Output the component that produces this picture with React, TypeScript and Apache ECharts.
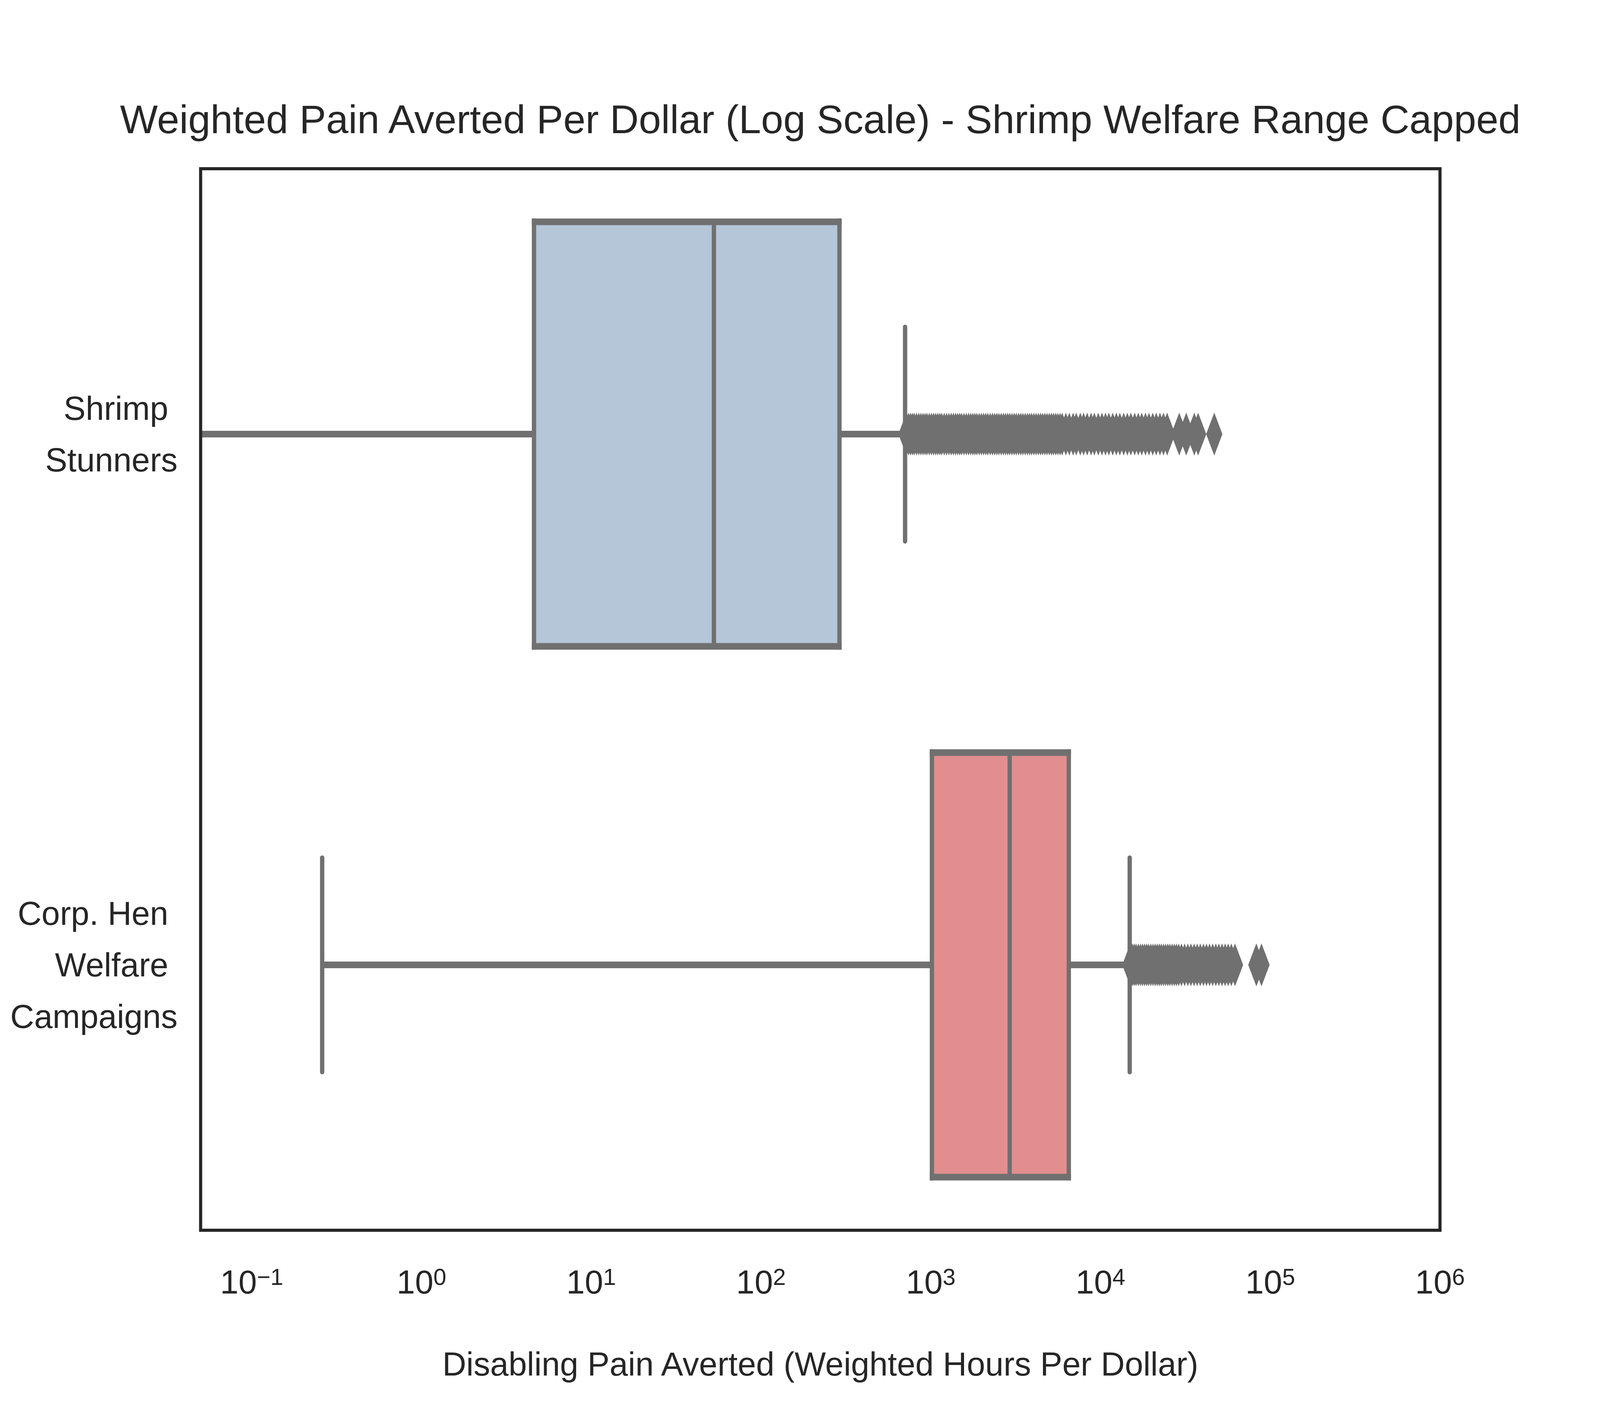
import React, { useEffect, useRef } from 'react';
import * as echarts from 'echarts';

const TITLE = 'Weighted Pain Averted Per Dollar (Log Scale) - Shrimp Welfare Range Capped';
const X_LABEL = 'Disabling Pain Averted (Weighted Hours Per Dollar)';
const categories = ['Shrimp\u00a0\nStunners', 'Corp. Hen\u00a0\nWelfare\u00a0\nCampaigns'];

// [lower whisker, Q1, median, Q3, upper whisker]
const shrimpStats = [0.02, 4.6, 52.8, 290, 706];
const henStats = [0.26, 1016, 2917, 6506, 14860];

const shrimpOutliers = [
  720, 740, 760, 780, 800, 825, 850, 875, 900, 925, 950, 980, 1010, 1040, 1070, 1100, 1130, 1160,
  1200, 1240, 1280, 1320, 1360, 1400, 1440, 1480, 1520, 1570, 1620, 1670, 1720, 1770, 1820, 1870,
  1930, 1990, 2050, 2110, 2170, 2240, 2310, 2380, 2450, 2520, 2600, 2680, 2760, 2840, 2920, 3010,
  3100, 3190, 3290, 3390, 3490, 3600, 3710, 3820, 3930, 4050, 4170, 4300, 4430, 4560, 4700, 4840,
  4990, 5140, 5290, 5450, 5610, 5780, 5950, 6250, 6550, 6900, 7200, 7600, 7950, 8350, 8800, 9200,
  9700, 10200, 10700, 11200, 11800, 12400, 13000, 13700, 14400, 15100, 15900, 16700, 17500, 18400,
  19300, 20300, 21300, 22400, 23500, 24700, 29100, 32000, 35700, 37600, 46800,
];
const henOutliers = [
  15000, 15400, 15800, 16200, 16700, 17200, 17700, 18200, 18700, 19200, 19800, 20400, 21000, 21600,
  22200, 22800, 23500, 24200, 24900, 25600, 26400, 27200, 28000, 28900, 30000, 31300, 32700, 34100,
  35600, 37100, 38700, 40400, 42100, 43900, 45800, 47800, 49800, 52000, 54200, 56500, 59000, 62000,
  82800, 88800,
];

const boxFills = ['#b4c6d8', '#e28e8e'];
const X_MIN = 0.05;
const X_MAX = 1e6;

// reference frame the layout is designed in
const REF_W = 6300;
const REF_H = 3600;

export default function App() {
  const ref = useRef<HTMLDivElement>(null);
  useEffect(() => {
    const chart = echarts.init(ref.current!, null, { renderer: 'svg' });
    const W = chart.getWidth();
    const H = chart.getHeight();
    const sx = W / REF_W;
    const sy = H / REF_H;
    const fs = Math.min(sy, sx * 1.05);
    const font = "'Liberation Sans', Arial, sans-serif";
    const ink = '#262626';
    const grey = '#707070';
    const lwH = 17 * sy; // thickness of horizontal strokes
    const lwV = 17 * sx; // thickness of vertical strokes

    const boxData = [shrimpStats, henStats].map((s, i) => [i, ...s]);
    const scatterData = [
      ...shrimpOutliers.map((v) => [v, 0]),
      ...henOutliers.map((v) => [v, 1]),
    ];

    const gridTop = 432 * sy;
    const gridBottomY = 3150 * sy;

    // x tick label geometry
    const supLH = 88 * fs;
    const baseLH = 125 * fs;
    const supCenter = 3270 * sy;
    const baseCenter = 3322 * sy;
    const labelTop = supCenter - supLH / 2;
    const basePad = baseCenter - labelTop - baseLH / 2;

    chart.setOption({
      animation: false,
      backgroundColor: '#ffffff',
      textStyle: { fontFamily: font },
      graphic: [
        {
          type: 'text',
          x: 3230 * sx,
          y: 305 * sy,
          style: {
            text: TITLE,
            fontSize: 150 * fs,
            fontFamily: font,
            fill: ink,
            align: 'center',
            verticalAlign: 'middle',
            textAlign: 'center',
            textVerticalAlign: 'middle',
          },
        },
      ],
      grid: {
        left: 790 * sx,
        right: 630 * sx,
        top: gridTop,
        bottom: H - gridBottomY,
        show: true,
        borderColor: ink,
        borderWidth: 8,
        backgroundColor: 'transparent',
        z: 10,
      },
      xAxis: {
        type: 'log',
        logBase: 10,
        min: X_MIN,
        max: X_MAX,
        splitNumber: 7,
        name: X_LABEL,
        nameLocation: 'middle',
        nameGap: 3492 * sy - gridBottomY - (124 * fs) / 2,
        nameTextStyle: { fontSize: 124 * fs, color: ink, fontFamily: font },
        axisLine: { show: false },
        axisTick: { show: false },
        splitLine: { show: false },
        axisLabel: {
          margin: labelTop - gridBottomY,
          color: ink,
          fontFamily: font,
          formatter: (v: number) => {
            const e = Math.log10(v);
            const r = Math.round(e);
            if (Math.abs(e - r) > 1e-6) return '';
            const exp = r < 0 ? '\u2212' + Math.abs(r) : String(r);
            return '{b|10}{s|' + exp + '}';
          },
          rich: {
            b: {
              fontSize: 124 * fs,
              lineHeight: baseLH,
              padding: [basePad, 0, 0, 0],
              verticalAlign: 'bottom',
              color: ink,
              fontFamily: font,
            },
            s: {
              fontSize: 87 * fs,
              lineHeight: supLH,
              verticalAlign: 'top',
              color: ink,
              fontFamily: font,
            },
          },
        },
      },
      yAxis: {
        type: 'category',
        inverse: true,
        data: categories,
        axisLine: { show: false },
        axisTick: { show: false },
        splitLine: { show: false },
        axisLabel: {
          fontSize: 124 * fs,
          lineHeight: 132 * sy,
          color: ink,
          fontFamily: font,
          margin: 91 * sx,
          align: 'right',
          padding: [20 * sy, 0, 0, 0],
        },
      },
      series: [
        {
          type: 'custom',
          clip: true,
          z: 2,
          data: boxData,
          encode: { x: [1, 2, 3, 4, 5], y: 0 },
          renderItem: (params: any, api: any) => {
            const cat = api.value(0);
            const lo = api.coord([api.value(1), cat]);
            const q1 = api.coord([api.value(2), cat]);
            const med = api.coord([api.value(3), cat]);
            const q3 = api.coord([api.value(4), cat]);
            const hi = api.coord([api.value(5), cat]);
            const band = params.coordSys.height / categories.length;
            const half = band * 0.4;
            const capHalf = band * 0.2 + 3 * sy;
            const cy = lo[1];
            const hStyle = { stroke: grey, lineWidth: lwH, fill: null };
            const vStyle = { stroke: grey, lineWidth: lwV, fill: null };
            const top = cy - half;
            const bot = cy + half;
            return {
              type: 'group',
              children: [
                { type: 'line', shape: { x1: lo[0], y1: cy, x2: q1[0], y2: cy }, style: hStyle },
                { type: 'line', shape: { x1: q3[0], y1: cy, x2: hi[0], y2: cy }, style: hStyle },
                {
                  type: 'line',
                  shape: { x1: lo[0], y1: cy - capHalf, x2: lo[0], y2: cy + capHalf },
                  style: { ...vStyle, lineCap: 'round' },
                },
                {
                  type: 'line',
                  shape: { x1: hi[0], y1: cy - capHalf, x2: hi[0], y2: cy + capHalf },
                  style: { ...vStyle, lineCap: 'round' },
                },
                {
                  type: 'rect',
                  shape: { x: q1[0], y: top, width: q3[0] - q1[0], height: bot - top },
                  style: { fill: boxFills[cat], stroke: null },
                },
                {
                  type: 'line',
                  shape: { x1: q1[0] - lwV / 2, y1: top, x2: q3[0] + lwV / 2, y2: top },
                  style: hStyle,
                },
                {
                  type: 'line',
                  shape: { x1: q1[0] - lwV / 2, y1: bot, x2: q3[0] + lwV / 2, y2: bot },
                  style: hStyle,
                },
                {
                  type: 'line',
                  shape: { x1: q1[0], y1: top - lwH / 2, x2: q1[0], y2: bot + lwH / 2 },
                  style: vStyle,
                },
                {
                  type: 'line',
                  shape: { x1: q3[0], y1: top - lwH / 2, x2: q3[0], y2: bot + lwH / 2 },
                  style: vStyle,
                },
                {
                  type: 'line',
                  shape: { x1: med[0], y1: top, x2: med[0], y2: bot },
                  style: vStyle,
                },
              ],
            };
          },
        },
        {
          type: 'scatter',
          z: 3,
          data: scatterData,
          symbol: 'diamond',
          symbolSize: [64 * sx, 110 * sy],
          itemStyle: { color: grey, opacity: 1 },
        },
      ],
    });
    return () => chart.dispose();
  }, []);
  return <div ref={ref} style={{ width: '100vw', height: '100vh', margin: '-8px', background: '#fff' }} />;
}
